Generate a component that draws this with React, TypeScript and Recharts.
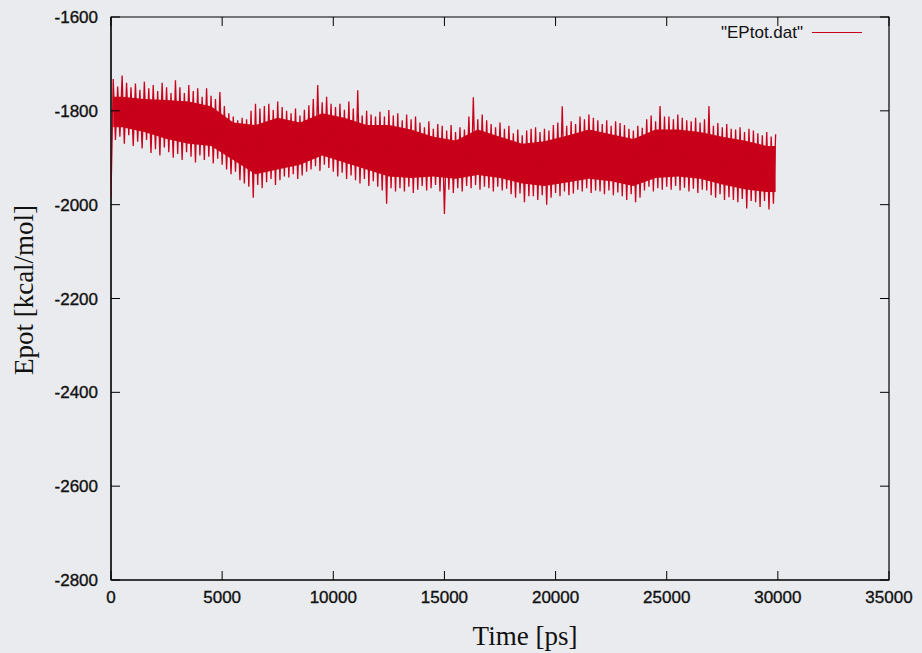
import { ComposedChart, Line, Area, XAxis, YAxis, ReferenceArea } from 'recharts';

// potential energy, one value every 100 ps (10 values per row = 1 ns)
const sampleStepPs = 100;
const epotRows = [
  [-1985, -1732, -1862, -1748, -1855, -1725, -1870, -1740, -1852, -1750],
  [-1875, -1742, -1866, -1755, -1880, -1738, -1862, -1752, -1890, -1745],
  [-1882, -1758, -1895, -1740, -1878, -1750, -1888, -1762, -1900, -1735],
  [-1892, -1750, -1905, -1762, -1888, -1745, -1898, -1758, -1910, -1752],
  [-1895, -1770, -1905, -1752, -1898, -1768, -1912, -1775, -1902, -1760],
  [-1915, -1790, -1925, -1805, -1935, -1812, -1930, -1820, -1948, -1815],
  [-1955, -1818, -1962, -1800, -1985, -1785, -1958, -1795, -1965, -1790],
  [-1952, -1785, -1945, -1798, -1958, -1780, -1948, -1792, -1940, -1800],
  [-1942, -1805, -1935, -1795, -1945, -1810, -1938, -1798, -1930, -1788],
  [-1925, -1775, -1918, -1745, -1928, -1782, -1915, -1770, -1922, -1785],
  [-1930, -1792, -1940, -1785, -1932, -1798, -1945, -1780, -1938, -1795],
  [-1948, -1756, -1955, -1810, -1945, -1800, -1960, -1808, -1950, -1812],
  [-1962, -1802, -1970, -1812, -1998, -1798, -1965, -1810, -1972, -1805],
  [-1965, -1820, -1972, -1808, -1962, -1818, -1975, -1812, -1968, -1825],
  [-1960, -1835, -1970, -1822, -1965, -1838, -1958, -1828, -1972, -1832],
  [-2020, -1842, -1968, -1830, -1975, -1845, -1965, -1835, -1972, -1840],
  [-1960, -1812, -1965, -1771, -1958, -1818, -1968, -1808, -1962, -1820],
  [-1965, -1828, -1972, -1835, -1962, -1825, -1970, -1838, -1966, -1832],
  [-1978, -1848, -1985, -1840, -1976, -1852, -1995, -1842, -1982, -1838],
  [-1982, -1835, -1990, -1845, -1980, -1838, -2000, -1842, -1985, -1830],
  [-1975, -1825, -1982, -1790, -1972, -1832, -1980, -1822, -1976, -1828],
  [-1968, -1812, -1972, -1818, -1965, -1808, -1975, -1815, -1970, -1820],
  [-1972, -1828, -1978, -1820, -1970, -1832, -1980, -1822, -1974, -1826],
  [-1982, -1830, -1990, -1838, -1978, -1842, -1995, -1832, -1985, -1836],
  [-1970, -1818, -1962, -1810, -1972, -1822, -1965, -1790, -1968, -1812],
  [-1962, -1812, -1968, -1818, -1960, -1808, -1970, -1815, -1964, -1820],
  [-1972, -1822, -1966, -1815, -1975, -1825, -1968, -1818, -1970, -1790],
  [-1980, -1832, -1985, -1826, -1978, -1835, -1990, -1828, -1984, -1838],
  [-1990, -1840, -1995, -1835, -1988, -1845, -2008, -1838, -1992, -1842],
  [-1995, -1848, -2005, -1852, -1992, -1845, -2010, -1855, -1998, -1850],
];

// solid core of the noisy band, one pair per 1 ns
const bandTop = [-1770, -1775, -1777, -1780, -1790, -1825, -1830, -1815, -1825, -1805,
  -1815, -1830, -1830, -1840, -1855, -1863, -1840, -1855, -1870, -1865,
  -1853, -1840, -1850, -1860, -1840, -1840, -1845, -1855, -1863, -1875];
const bandBottom = [-1835, -1845, -1860, -1870, -1875, -1905, -1935, -1925, -1915, -1895,
  -1910, -1925, -1940, -1943, -1940, -1945, -1937, -1943, -1955, -1960,
  -1953, -1945, -1950, -1960, -1943, -1940, -1945, -1957, -1967, -1973];

const xTicks = [0, 5000, 10000, 15000, 20000, 25000, 30000, 35000];
const yTicks = [-2800, -2600, -2400, -2200, -2000, -1800, -1600];

const flat = epotRows.flat();
const data = flat.map((v, i) => {
  const row = Math.floor(i / 10);
  const hasBand = i % 10 === 5 || i === 1 || i === flat.length - 1;
  return {
    time: i * sampleStepPs,
    epot: v,
    band: hasBand ? [bandBottom[row], bandTop[row]] : null,
  };
});

const RED = '#c8001a';
const PLOT = { left: 111, right: 889, top: 17, bottom: 580 };
const TICK_LEN = 9;
const labelFont = {
  fontFamily: 'Liberation Sans, Arial, sans-serif',
  fontSize: 17,
  fill: '#111',
  stroke: '#111',
  strokeWidth: 0.35,
};
const titleFont = 'Liberation Serif, Times New Roman, serif';

// gnuplot style: ticks point inwards, mirrored on the opposite side
const BottomTick = ({ x, payload }: any) => (
  <g>
    <line x1={x} x2={x} y1={PLOT.bottom} y2={PLOT.bottom - TICK_LEN} stroke="#000" />
    <line x1={x} x2={x} y1={PLOT.top} y2={PLOT.top + TICK_LEN} stroke="#000" />
    <text x={x} y={PLOT.bottom + 23} textAnchor="middle" {...labelFont}>{payload.value}</text>
  </g>
);

const LeftTick = ({ y, payload }: any) => (
  <g>
    <line x1={PLOT.left} x2={PLOT.left + TICK_LEN} y1={y} y2={y} stroke="#000" />
    <line x1={PLOT.right} x2={PLOT.right - TICK_LEN} y1={y} y2={y} stroke="#000" />
    <text x={PLOT.left - 13} y={y + 6} textAnchor="end" {...labelFont}>{payload.value}</text>
  </g>
);

export default function App() {
  return (
    <div style={{ width: 922, height: 653, background: '#e9ebee', position: 'relative' }}>
      <style>{'body{margin:0}'}</style>
      <ComposedChart width={922} height={653} data={data} margin={{ top: PLOT.top, right: 922 - PLOT.right, bottom: 0, left: 0 }}>
        <XAxis
          dataKey="time"
          type="number"
          domain={[0, 35000]}
          ticks={xTicks}
          allowDataOverflow
          height={653 - PLOT.bottom}
          stroke="#000"
          tickLine={false}
          tick={<BottomTick />}
          label={{
            content: () => (
              <text x={525} y={645} textAnchor="middle" fontFamily={titleFont} fontSize={27} fill="#111">
                Time [ps]
              </text>
            ),
          }}
        />
        <YAxis
          type="number"
          domain={[-2800, -1600]}
          ticks={yTicks}
          allowDataOverflow
          width={PLOT.left}
          stroke="#000"
          tickLine={false}
          tick={<LeftTick />}
          label={{
            content: () => (
              <text x={24} y={290} transform="rotate(-90 24 290)" textAnchor="middle" dominantBaseline="central"
                fontFamily={titleFont} fontSize={27} fill="#111">
                Epot [kcal/mol]
              </text>
            ),
          }}
        />
        <Area dataKey="band" type="linear" fill={RED} fillOpacity={1} stroke="none" connectNulls isAnimationActive={false} />
        <Line dataKey="epot" type="linear" stroke={RED} strokeWidth={1.3} dot={false} isAnimationActive={false} />
        <ReferenceArea x1={0} x2={35000} y1={-2800} y2={-1600} fill="none" stroke="#000" strokeWidth={1.2} ifOverflow="visible" />
      </ComposedChart>
      <div style={{
        position: 'absolute', top: 23, left: 721, display: 'flex', alignItems: 'center',
        fontFamily: 'Liberation Sans, Arial, sans-serif', fontSize: 17, color: '#111', lineHeight: '19px',
      }}>
        <span>"EPtot.dat"</span>
        <span style={{ display: 'inline-block', width: 50, height: 1.5, background: RED, marginLeft: 9 }} />
      </div>
    </div>
  );
}
